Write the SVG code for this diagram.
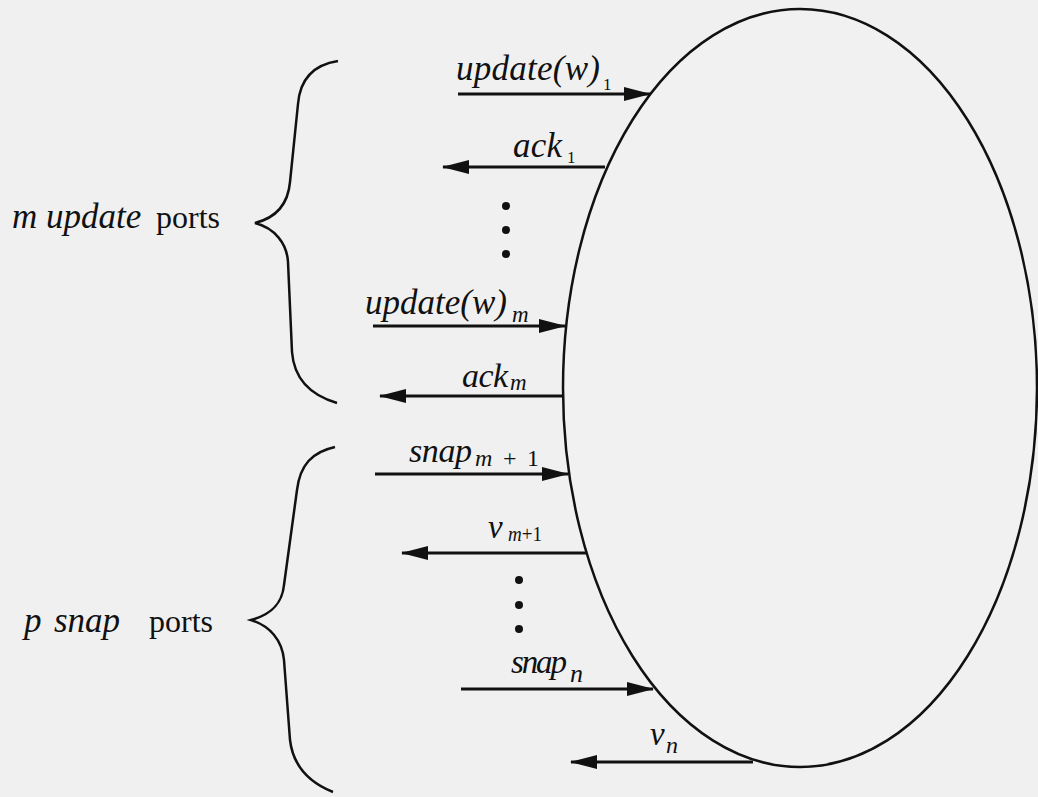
<svg xmlns="http://www.w3.org/2000/svg" width="1038" height="797" viewBox="0 0 1038 797">
<defs>
<style>
.bg{fill:#f0f0f0}
.ell{fill:#f1f1f1;stroke:#111;stroke-width:2.5}
.br{fill:none;stroke:#111;stroke-width:2.5}
.ar{stroke:#111;stroke-width:2.8;fill:none}
.t{font-family:"Liberation Serif","Times New Roman",serif;fill:#111}
.i{font-style:italic}
.n{font-style:normal}
.dot{fill:#111}
</style>
<marker id="ah" markerUnits="userSpaceOnUse" markerWidth="28" markerHeight="16" refX="26" refY="7.5" orient="auto">
<path d="M0,0.5 L27,7.5 L0,14.5 z" fill="#111"/>
</marker>
</defs>
<rect class="bg" x="0" y="0" width="1038" height="797"/>
<g id="process">
<ellipse class="ell" cx="800" cy="388" rx="237" ry="379"/>
</g>
<g id="update-group">
<path class="br" d="M338,61 C312,65 300,80 298,104 L290,182 C288,205 275,218 255,223 C275,228 287,244 288,262 L292,352 C294,378 310,395 337,403"/>
<text class="t" y="228" font-size="35"><tspan class="i" x="12">m</tspan><tspan class="i" x="46">update</tspan><tspan x="156" font-size="32">ports</tspan></text>
</g>
<g id="snap-group">
<path class="br" d="M335,447 C312,452 300,465 297,490 L284,585 C282,605 270,615 251,620 C270,626 282,640 284,660 L290,740 C293,765 308,782 333,792"/>
<text class="t" y="632" font-size="35"><tspan class="i" x="24">p</tspan><tspan class="i" x="54">snap</tspan><tspan x="149" font-size="32">ports</tspan></text>
</g>
<g id="connectors">
<line class="ar" x1="458" y1="94" x2="650" y2="94" marker-end="url(#ah)"/>
<line class="ar" x1="605" y1="167" x2="443" y2="167" marker-end="url(#ah)"/>
<line class="ar" x1="373" y1="326" x2="565" y2="326" marker-end="url(#ah)"/>
<line class="ar" x1="563" y1="396" x2="380" y2="396" marker-end="url(#ah)"/>
<line class="ar" x1="375" y1="474" x2="568" y2="474" marker-end="url(#ah)"/>
<line class="ar" x1="587" y1="553" x2="402" y2="553" marker-end="url(#ah)"/>
<line class="ar" x1="461" y1="689" x2="653" y2="689" marker-end="url(#ah)"/>
<line class="ar" x1="753" y1="762" x2="571" y2="762" marker-end="url(#ah)"/>
</g>
<g id="labels">
<text class="t i" x="456" y="80" font-size="35" textLength="144">update(w)</text>
<text class="t" x="603" y="90" font-size="17">1</text>
<text class="t i" x="513" y="157" font-size="35" textLength="49">ack</text>
<text class="t" x="567" y="163" font-size="17">1</text>
<text class="t i" x="365" y="314" font-size="35" textLength="142">update(w)</text>
<text class="t i" x="512" y="322" font-size="23">m</text>
<text class="t i" x="462" y="387" font-size="34" textLength="46">ack</text>
<text class="t i" x="510" y="390" font-size="23">m</text>
<text class="t i" x="409" y="462" font-size="34" textLength="63">snap</text>
<text class="t i" x="475" y="466" font-size="24" textLength="64">m<tspan class="n">+1</tspan></text>
<text class="t i" x="488" y="538" font-size="33">v</text>
<text class="t i" x="508" y="541" font-size="20" textLength="34" lengthAdjust="spacingAndGlyphs">m<tspan class="n">+1</tspan></text>
<text class="t i" x="511" y="673" font-size="33" textLength="56">snap</text>
<text class="t i" x="570" y="682" font-size="26">n</text>
<text class="t i" x="650" y="745" font-size="33">v</text>
<text class="t i" x="666" y="753" font-size="24">n</text>
</g>
<g id="ellipsis-dots">
<circle class="dot" cx="506" cy="206" r="4"/>
<circle class="dot" cx="506" cy="230" r="4"/>
<circle class="dot" cx="506" cy="254" r="4"/>
<circle class="dot" cx="519" cy="580" r="4"/>
<circle class="dot" cx="519" cy="605" r="4"/>
<circle class="dot" cx="519" cy="629" r="4"/>
</g>
</svg>
